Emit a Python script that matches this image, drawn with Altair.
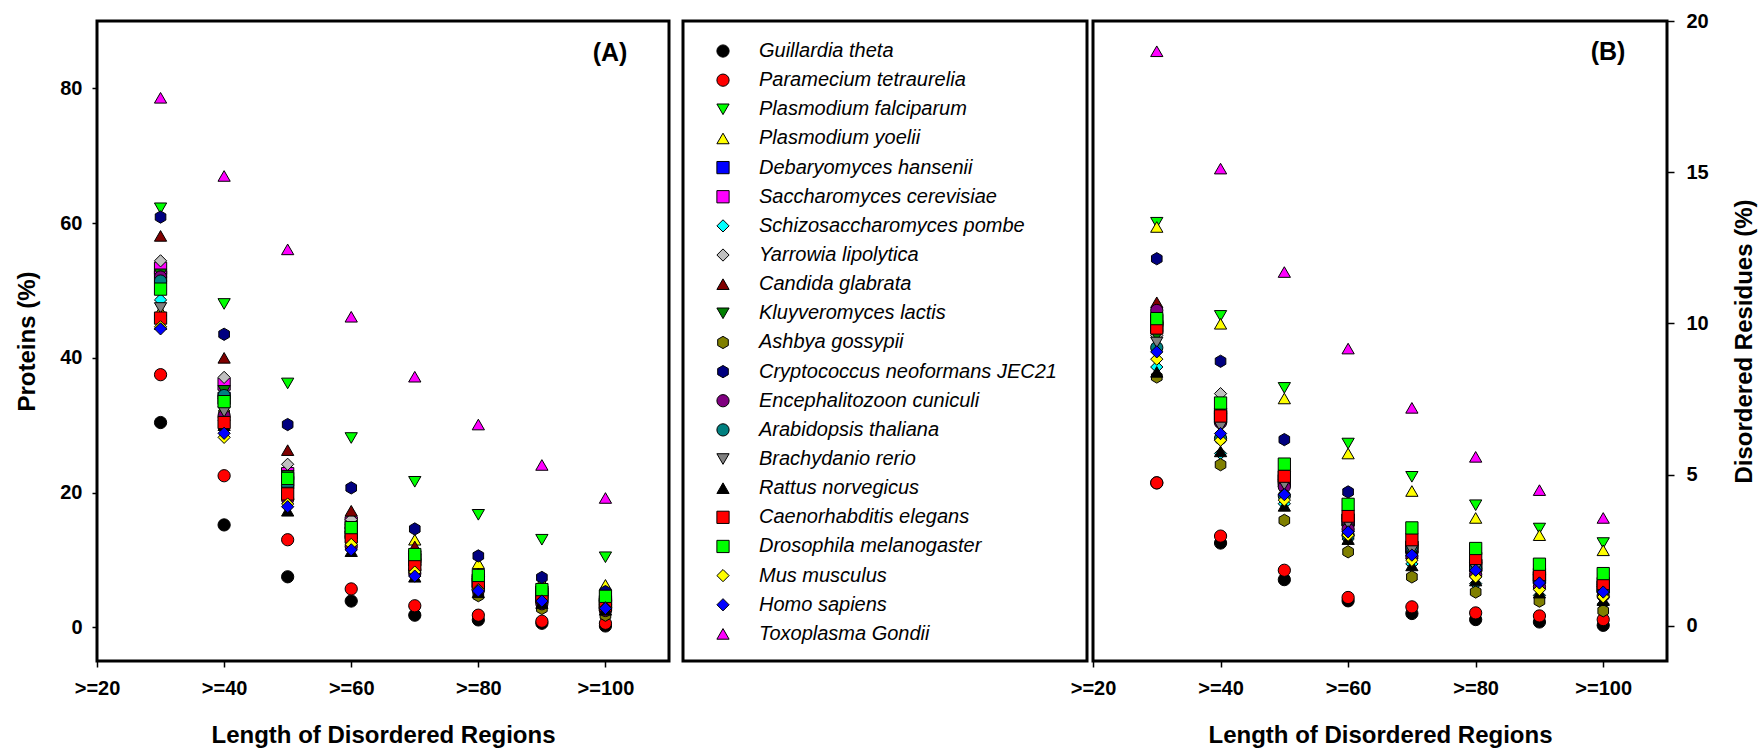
import altair as alt
import pandas as pd

# ---------------- data ----------------
LENGTHS = [30, 40, 50, 60, 70, 80, 90, 100]
TICK_VALUES = [20, 40, 60, 80, 100]

SPECIES = [
    "Guillardia theta", "Paramecium tetraurelia", "Plasmodium falciparum",
    "Plasmodium yoelii", "Debaryomyces hansenii", "Saccharomyces cerevisiae",
    "Schizosaccharomyces pombe", "Yarrowia lipolytica", "Candida glabrata",
    "Kluyveromyces lactis", "Ashbya gossypii", "Cryptococcus neoformans JEC21",
    "Encephalitozoon cuniculi", "Arabidopsis thaliana", "Brachydanio rerio",
    "Rattus norvegicus", "Caenorhabditis elegans", "Drosophila melanogaster",
    "Mus musculus", "Homo sapiens", "Toxoplasma Gondii",
]

HEX = "M0,-1L0.866,-0.5L0.866,0.5L0,1L-0.866,0.5L-0.866,-0.5Z"
SHAPES = [
    "circle", "circle", "triangle-down", "triangle-up", "square", "square",
    "diamond", "diamond", "triangle-up", "triangle-down", HEX, HEX,
    "circle", "circle", "triangle-down", "triangle-up", "square", "square",
    "diamond", "diamond", "triangle-up",
]
COLORS = [
    "#000000", "#ff0000", "#00ff00", "#ffff00", "#0000ff", "#ff00ff",
    "#00ffff", "#c0c0c0", "#800000", "#008000", "#808000", "#000080",
    "#800080", "#008080", "#808080", "#000000", "#ff0000", "#00ff00",
    "#ffff00", "#0000ff", "#ff00ff",
]
SIZES = [
    150, 150, 165, 165, 125, 125, 200, 200, 165, 165, 155, 155,
    150, 150, 165, 165, 125, 125, 200, 200, 165,
]

# Panel A: proteins (%) for each species at >=30 ... >=100
PROTEINS_PCT = [
    [30.4, 15.2, 7.5, 3.9, 1.8, 1.1, 0.6, 0.2],
    [37.5, 22.5, 13.0, 5.7, 3.2, 1.8, 0.9, 0.6],
    [62.2, 48.0, 36.2, 28.1, 21.6, 16.7, 13.0, 10.4],
    [47.0, 31.5, 22.0, 15.0, 13.0, 9.5, 6.8, 6.3],
    [52.0, 34.0, 21.5, 14.0, 10.0, 6.8, 5.0, 3.5],
    [53.3, 36.1, 22.8, 15.5, 10.5, 7.0, 5.2, 3.8],
    [48.6, 34.0, 21.0, 12.8, 8.5, 6.0, 4.2, 2.9],
    [54.4, 37.1, 24.2, 16.0, 11.0, 7.5, 5.5, 4.0],
    [58.1, 40.0, 26.3, 17.3, 12.0, 8.0, 5.8, 4.2],
    [52.4, 35.1, 22.5, 14.5, 10.0, 7.0, 5.0, 3.5],
    [46.0, 31.8, 20.0, 12.5, 8.0, 4.7, 2.8, 1.8],
    [60.9, 43.5, 30.1, 20.7, 14.6, 10.6, 7.4, 5.3],
    [52.0, 31.4, 19.0, 12.0, 8.0, 5.5, 3.5, 2.5],
    [51.4, 34.4, 21.0, 13.5, 8.5, 6.0, 4.0, 2.8],
    [47.4, 32.0, 20.0, 12.5, 8.5, 5.8, 4.0, 2.8],
    [45.0, 30.0, 17.3, 11.3, 7.5, 5.2, 3.6, 2.6],
    [45.9, 30.4, 19.8, 13.4, 9.3, 6.4, 4.5, 3.3],
    [50.2, 33.5, 22.1, 14.8, 10.8, 7.7, 5.6, 4.6],
    [44.6, 28.2, 18.3, 12.3, 8.2, 5.6, 3.9, 2.9],
    [44.3, 28.8, 17.9, 11.5, 7.6, 5.4, 3.9, 2.8],
    [78.6, 67.0, 56.1, 46.1, 37.2, 30.1, 24.1, 19.2],
]

# Panel B: disordered residues (%)
RESIDUES_PCT = [
    [4.73, 2.74, 1.53, 0.83, 0.41, 0.21, 0.13, 0.02],
    [4.73, 2.97, 1.84, 0.94, 0.63, 0.43, 0.33, 0.21],
    [13.33, 10.25, 7.87, 6.03, 4.93, 3.99, 3.22, 2.74],
    [13.19, 9.99, 7.52, 5.70, 4.46, 3.57, 3.00, 2.50],
    [9.90, 6.90, 4.80, 3.50, 2.60, 2.00, 1.60, 1.30],
    [10.10, 7.00, 4.90, 3.50, 2.60, 2.00, 1.60, 1.30],
    [8.56, 5.70, 4.04, 2.87, 2.05, 1.40, 1.01, 0.72],
    [9.60, 7.68, 5.10, 3.60, 2.70, 2.10, 1.70, 1.30],
    [10.70, 7.20, 4.80, 3.30, 2.40, 1.80, 1.40, 1.10],
    [9.58, 6.60, 4.50, 3.20, 2.30, 1.70, 1.30, 1.00],
    [8.23, 5.33, 3.49, 2.45, 1.62, 1.12, 0.82, 0.50],
    [12.14, 8.75, 6.16, 4.43, 3.20, 2.50, 1.95, 1.65],
    [10.43, 6.72, 4.60, 3.20, 2.30, 1.70, 1.30, 1.00],
    [9.20, 6.20, 4.30, 3.00, 2.61, 1.90, 1.50, 1.15],
    [9.37, 6.58, 4.67, 3.38, 2.50, 1.90, 1.50, 1.20],
    [8.40, 5.77, 3.97, 2.87, 2.00, 1.50, 1.10, 0.85],
    [9.85, 6.94, 4.95, 3.63, 2.85, 2.23, 1.70, 1.40],
    [10.16, 7.37, 5.35, 4.02, 3.24, 2.56, 2.04, 1.73],
    [8.82, 6.14, 4.16, 3.00, 2.17, 1.62, 1.20, 0.96],
    [9.06, 6.36, 4.34, 3.11, 2.34, 1.84, 1.42, 1.12],
    [19.00, 15.12, 11.70, 9.17, 7.21, 5.59, 4.49, 3.57],
]

# ---------------- tables ----------------
rows = []
for i, sp in enumerate(SPECIES):
    for j, L in enumerate(LENGTHS):
        rows.append({"species": sp, "idx": i, "length": L,
                     "proteins": PROTEINS_PCT[i][j],
                     "residues": RESIDUES_PCT[i][j]})
df = pd.DataFrame(rows)
leg_df = pd.DataFrame({"species": SPECIES, "idx": list(range(len(SPECIES)))})

FONT = "Liberation Sans"

shape_enc = alt.Shape("species:N", scale=alt.Scale(domain=SPECIES, range=SHAPES), legend=None)
fill_enc = alt.Fill("species:N", scale=alt.Scale(domain=SPECIES, range=COLORS), legend=None)
size_enc = alt.Size("species:N", scale=alt.Scale(domain=SPECIES, range=SIZES), legend=None)

x_axis = alt.Axis(values=TICK_VALUES, labelExpr="'>=' + datum.value",
                  title="Length of Disordered Regions", tickSize=6,
                  labelPadding=11, titlePadding=25, labelFlush=False)
x_enc = alt.X("length:Q", scale=alt.Scale(domain=[20, 110], nice=False, zero=False), axis=x_axis)

point_mark = dict(filled=True, stroke="black", strokeWidth=1, opacity=1)
one_row = leg_df[leg_df["idx"] == 0]

# Panel A
A_pts = alt.Chart(df).mark_point(**point_mark).encode(
    x=x_enc,
    y=alt.Y("proteins:Q", scale=alt.Scale(domain=[-5, 90], nice=False, zero=False),
            axis=alt.Axis(values=[0, 20, 40, 60, 80], title="Proteins (%)",
                          tickSize=5, labelPadding=10, titlePadding=20)),
    shape=shape_enc, fill=fill_enc, size=size_enc,
    order=alt.Order("idx:Q"),
)
A_lab = alt.Chart(one_row).mark_text(
    text="(A)", fontSize=25, fontWeight="bold", font=FONT, color="black"
).encode(x=alt.value(513), y=alt.value(32))
A = alt.layer(A_pts, A_lab).properties(width=572, height=640)

# Legend panel (box drawn as a frame, view is 412 wide, box starts 8px in)
leg_base = alt.Chart(leg_df).encode(
    y=alt.Y("idx:Q", scale=alt.Scale(domain=[-1.03, 20.93], reverse=True, nice=False, zero=False), axis=None)
)
leg_box = alt.Chart(one_row).mark_rect(
    fill="white", stroke="black", strokeWidth=3
).encode(x=alt.value(8), x2=alt.value(412), y=alt.value(0), y2=alt.value(640))
leg_pts = leg_base.mark_point(**point_mark).encode(
    x=alt.value(48), shape=shape_enc, fill=fill_enc, size=size_enc)
leg_txt = leg_base.mark_text(align="left", baseline="middle", fontStyle="italic",
                             fontSize=20, font=FONT, color="black").encode(
    x=alt.value(84), text="species:N")
LEG = alt.layer(leg_box, leg_pts, leg_txt).properties(
    width=412, height=640, view=alt.ViewConfig(stroke=None))

# Panel B
B_pts = alt.Chart(df).mark_point(**point_mark).encode(
    x=x_enc,
    y=alt.Y("residues:Q", scale=alt.Scale(domain=[-1.16, 20], nice=False, zero=False),
            axis=alt.Axis(orient="right", values=[0, 5, 10, 15, 20],
                          title="Disordered Residues (%)", titleAngle=270,
                          titleBaseline="top",
                          tickSize=7, labelPadding=12, titlePadding=24)),
    shape=shape_enc, fill=fill_enc, size=size_enc,
    order=alt.Order("idx:Q"),
)
B_lab = alt.Chart(one_row).mark_text(
    text="(B)", fontSize=25, fontWeight="bold", font=FONT, color="black"
).encode(x=alt.value(515), y=alt.value(31))
B = alt.layer(B_pts, B_lab).properties(width=574, height=640)

chart = alt.hconcat(A, LEG, B, spacing=6, bounds="flush").resolve_scale(
    shape="shared", fill="shared", size="shared"
).properties(
    padding={"left": 14, "top": 9, "right": 2, "bottom": 2},
    background="white",
).configure_view(
    stroke="black", strokeWidth=3
).configure_axis(
    grid=False, domain=False,
    labelFont=FONT, labelFontSize=20, labelFontWeight="bold", labelColor="black",
    titleFont=FONT, titleFontSize=24, titleFontWeight="bold", titleColor="black",
    tickColor="black", tickWidth=1.5,
)

chart.save("out.html", embed_options={"renderer": "svg", "actions": False})
